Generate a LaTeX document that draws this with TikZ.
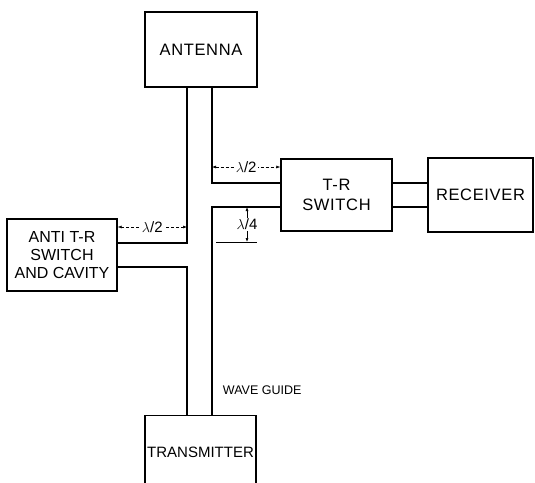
\documentclass[tikz,border=0pt]{standalone}
\usepackage{fontspec}
\setmainfont{Liberation Sans}
\usetikzlibrary{arrows.meta}
\begin{document}
\begin{tikzpicture}[x=1pt, y=-1pt, line width=1.3pt,
    box/.style={draw, rectangle, align=center, inner sep=0pt, font=\fontsize{16.5}{19.5}\selectfont\addfontfeature{LetterSpace=4}},
    dim/.style={line width=0.6pt, dash pattern=on 3pt off 2pt, {Latex[length=4pt,width=3pt]}-{Latex[length=4pt,width=3pt]}},
    lab/.style={fill=white, inner sep=1pt, font=\fontsize{15}{15}\selectfont}]
    \useasboundingbox (0,0) rectangle (535,482);
    % boxes
    \node[box, minimum width=112pt, minimum height=75pt] (ant) at (201,49.5) {ANTENNA};
    \node[box, minimum width=111pt, minimum height=72pt] (tr) at (336.5,195) {T-R\\SWITCH};
    \node[box, minimum width=105pt, minimum height=74pt] (rx) at (480.5,195) {RECEIVER};
    \node[box, minimum width=110pt, minimum height=72pt, font=\fontsize{16}{18}\selectfont] (atr) at (62,255) {ANTI T-R\\SWITCH\\AND CAVITY};
    \node[box, minimum width=111pt, minimum height=72pt, anchor=north] (tx) at (200.5,415) {};
    \node[font=\fontsize{15}{16}\selectfont] (txl) at (200.5,452) {TRANSMITTER};
    % wave guide walls
    \draw (187,87) -- (187,243) -- ([yshift=12pt]atr.east);
    \draw ([yshift=-12pt]atr.east) -- (187,267) -- (187,415);
    \draw (212,87) -- (212,183) -- ([yshift=12pt]tr.west);
    \draw ([yshift=-12pt]tr.west) -- (212,207) -- (212,415);
    \draw ([yshift=12pt]tr.east) -- ([yshift=12pt]rx.west);
    \draw ([yshift=-12pt]tr.east) -- ([yshift=-12pt]rx.west);
    % dimensions
    \coordinate (a) at (212,167);
    \draw[dim] (a) -- (a -| tr.west) node[midway, lab] (h1) {$\lambda$/2};
    \coordinate (b) at (187,227);
    \draw[dim] (b -| atr.east) -- (b) node[midway, lab] (h2) {$\lambda$/2};
    \coordinate (c) at (247,207);
    \coordinate (d) at (247,242);
    \draw[line width=0.6pt] (216,242) -- (257,242);
    \draw[line width=0.6pt, {Latex[length=4pt,width=3pt]}-{Latex[length=4pt,width=3pt]}] (c) -- (d) node[midway, lab, inner sep=0.5pt] (q) {$\lambda$/4};
    \node[anchor=west, font=\fontsize{12.5}{14}\selectfont] (wg) at (219,390) {WAVE GUIDE};
\end{tikzpicture}
\end{document}
